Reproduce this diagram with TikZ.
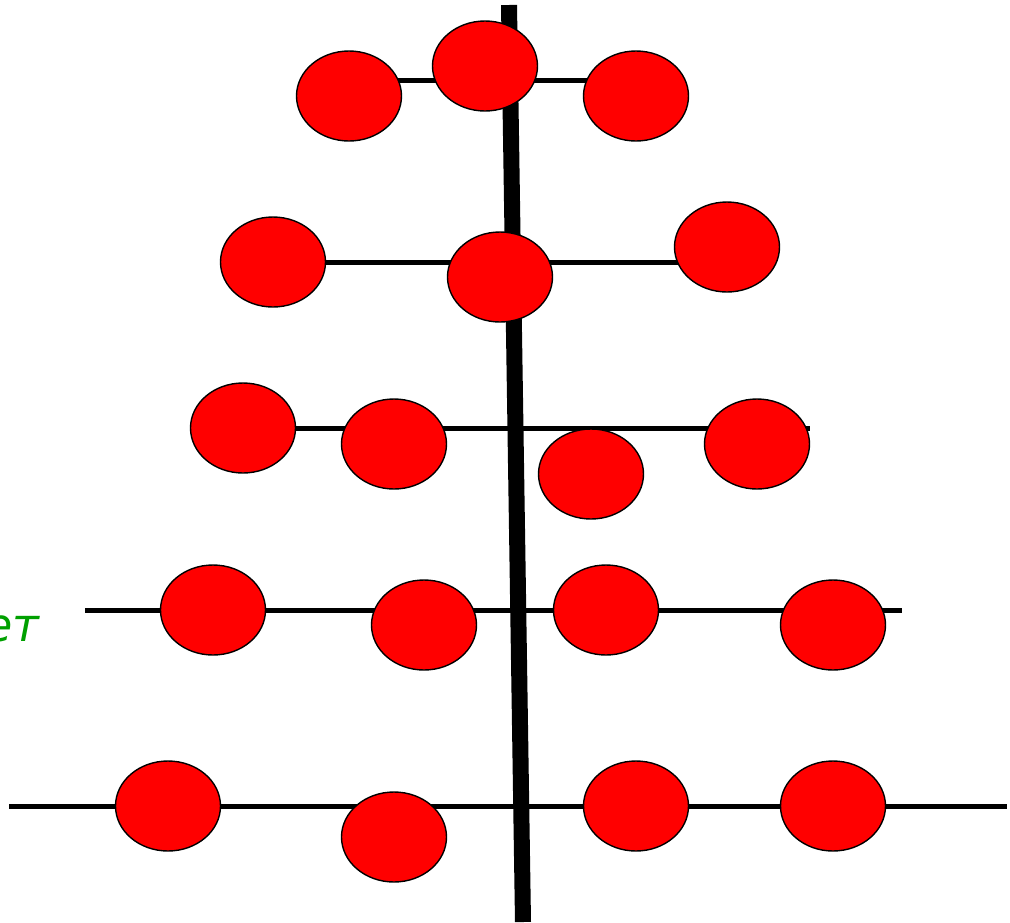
\documentclass[tikz,border=0pt]{standalone}
\usepackage{fontspec}
\newfontfamily\labelfont{DejaVu Sans}
\definecolor{ballred}{RGB}{255,0,0}
\definecolor{labelgreen}{RGB}{0,160,0}
\usetikzlibrary{shapes.geometric}
\tikzset{
  ball/.style={ellipse, draw=black, line width=1.4pt, fill=ballred, minimum width=105pt, minimum height=90pt, inner sep=0pt},
  branch/.style={line width=5pt},
  trunk/.style={line width=16pt},
}
\begin{document}
\begin{tikzpicture}[x=1pt,y=-1pt]
\useasboundingbox (0,0) rectangle (1010,922);
% branches
\coordinate (r1a) at (350,80); \coordinate (r1b) at (636,80);
\coordinate (r2a) at (273,262); \coordinate (r2b) at (727,262);
\coordinate (r3a) at (243,428); \coordinate (r3b) at (810,428);
\coordinate (r4a) at (85,610); \coordinate (r4b) at (902,610);
\coordinate (r5a) at (9,806); \coordinate (r5b) at (1007,806);
\draw[branch] (r1a) -- (r1b);
\draw[branch] (r2a) -- (r2b);
\draw[branch] (r3a) -- (r3b);
\draw[branch] (r4a) -- (r4b);
\draw[branch] (r5a) -- (r5b);
% trunk
\coordinate (top) at (509,5);
\coordinate (bot) at (523,922);
\draw[trunk] (top) -- (bot);
% balls
\node[ball] (b11) at (349,96) {};
\node[ball] (b12) at (485,66) {};
\node[ball] (b13) at (636,96) {};
\node[ball] (b21) at (273,262) {};
\node[ball] (b22) at (500,277) {};
\node[ball] (b23) at (727,247) {};
\node[ball] (b31) at (243,428) {};
\node[ball] (b32) at (394,444) {};
\node[ball] (b33) at (591,474) {};
\node[ball] (b34) at (757,444) {};
\node[ball] (b41) at (213,610) {};
\node[ball] (b42) at (424,625) {};
\node[ball] (b43) at (606,610) {};
\node[ball] (b44) at (833,625) {};
\node[ball] (b51) at (168,806) {};
\node[ball] (b52) at (394,837) {};
\node[ball] (b53) at (636,806) {};
\node[ball] (b54) at (833,806) {};
% label
\node[anchor=base east, inner sep=0pt, text=labelgreen, font=\labelfont\itshape\fontsize{46}{56}\selectfont] (lbl) at (40,641) {ет};
\end{tikzpicture}
\end{document}
